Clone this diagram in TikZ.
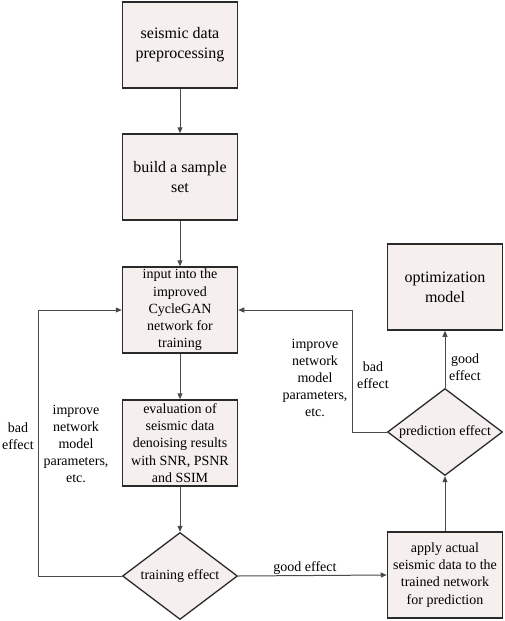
\documentclass[tikz,border=0pt]{standalone}
\usepackage{fontspec}
\setmainfont{Liberation Serif}
\usetikzlibrary{shapes.geometric,arrows.meta}
\definecolor{boxfill}{HTML}{F5EFEE}
\definecolor{boxline}{HTML}{2A2A2A}
\definecolor{linec}{HTML}{4A4A4A}
\begin{document}
\begin{tikzpicture}[x=1pt,y=-1pt,
  procbox/.style={draw=boxline,line width=1.5pt,fill=boxfill,minimum width=115pt,minimum height=86pt,inner sep=1pt,align=center,font=\fontsize{14}{17.2}\selectfont},
  bigbox/.style={procbox,font=\fontsize{16}{20}\selectfont},
  decis/.style={draw=boxline,line width=1.3pt,fill=boxfill,shape=diamond,aspect=1.33,minimum width=115pt,minimum height=87pt,inner sep=0pt,align=center,font=\fontsize{14}{17}\selectfont},
  conn/.style={draw=linec,line width=1pt,-{Triangle[length=6pt,width=5pt]}},
  lbl/.style={align=center,font=\fontsize{14}{17}\selectfont,inner sep=0pt}]
\useasboundingbox (0,0) rectangle (505,621);
\node[bigbox] (b1) at (180,45) {seismic data\\preprocessing};
\node[bigbox] (b2) at (180,177) {build a sample\\set};
\node[procbox] (b3) at (180,310) {input into the\\improved\\CycleGAN\\network for\\training};
\node[procbox] (b4) at (180,443) {evaluation of\\seismic data\\denoising results\\with SNR, PSNR\\and SSIM};
\node[decis] (d1) at (180,576) {training effect};
\node[bigbox] (opt) at (445,287) {optimization\\model};
\node[decis] (d2) at (445,432) {prediction effect};
\node[procbox] (ap) at (445,575) {apply actual\\seismic data to the\\trained network\\for prediction};
\coordinate (cl) at (38,310);
\coordinate (cr) at (352,310);
\draw[conn] (b1) -- (b2);
\draw[conn] (b2) -- (b3);
\draw[conn] (b3) -- (b4);
\draw[conn] (b4) -- (d1);
\draw[conn] (d1.west) -| (cl) -- (b3.west);
\draw[conn] (d1.east) -- (ap.west);
\draw[conn] (ap) -- (d2);
\draw[conn] (d2) -- (opt);
\draw[conn] (d2.west) -| (cr) -- (b3.east);
\node[lbl] (l1) at (18,436) {bad\\effect};
\node[lbl] (l2) at (76,444) {improve\\network\\model\\parameters,\\etc.};
\node[lbl] (l3) at (315,378) {improve\\network\\model\\parameters,\\etc.};
\node[lbl] (l4) at (373,375) {bad\\effect};
\node[lbl] (l5) at (465,367) {good\\effect};
\node[lbl] (l6) at (305,568) {good effect};
\end{tikzpicture}
\end{document}
